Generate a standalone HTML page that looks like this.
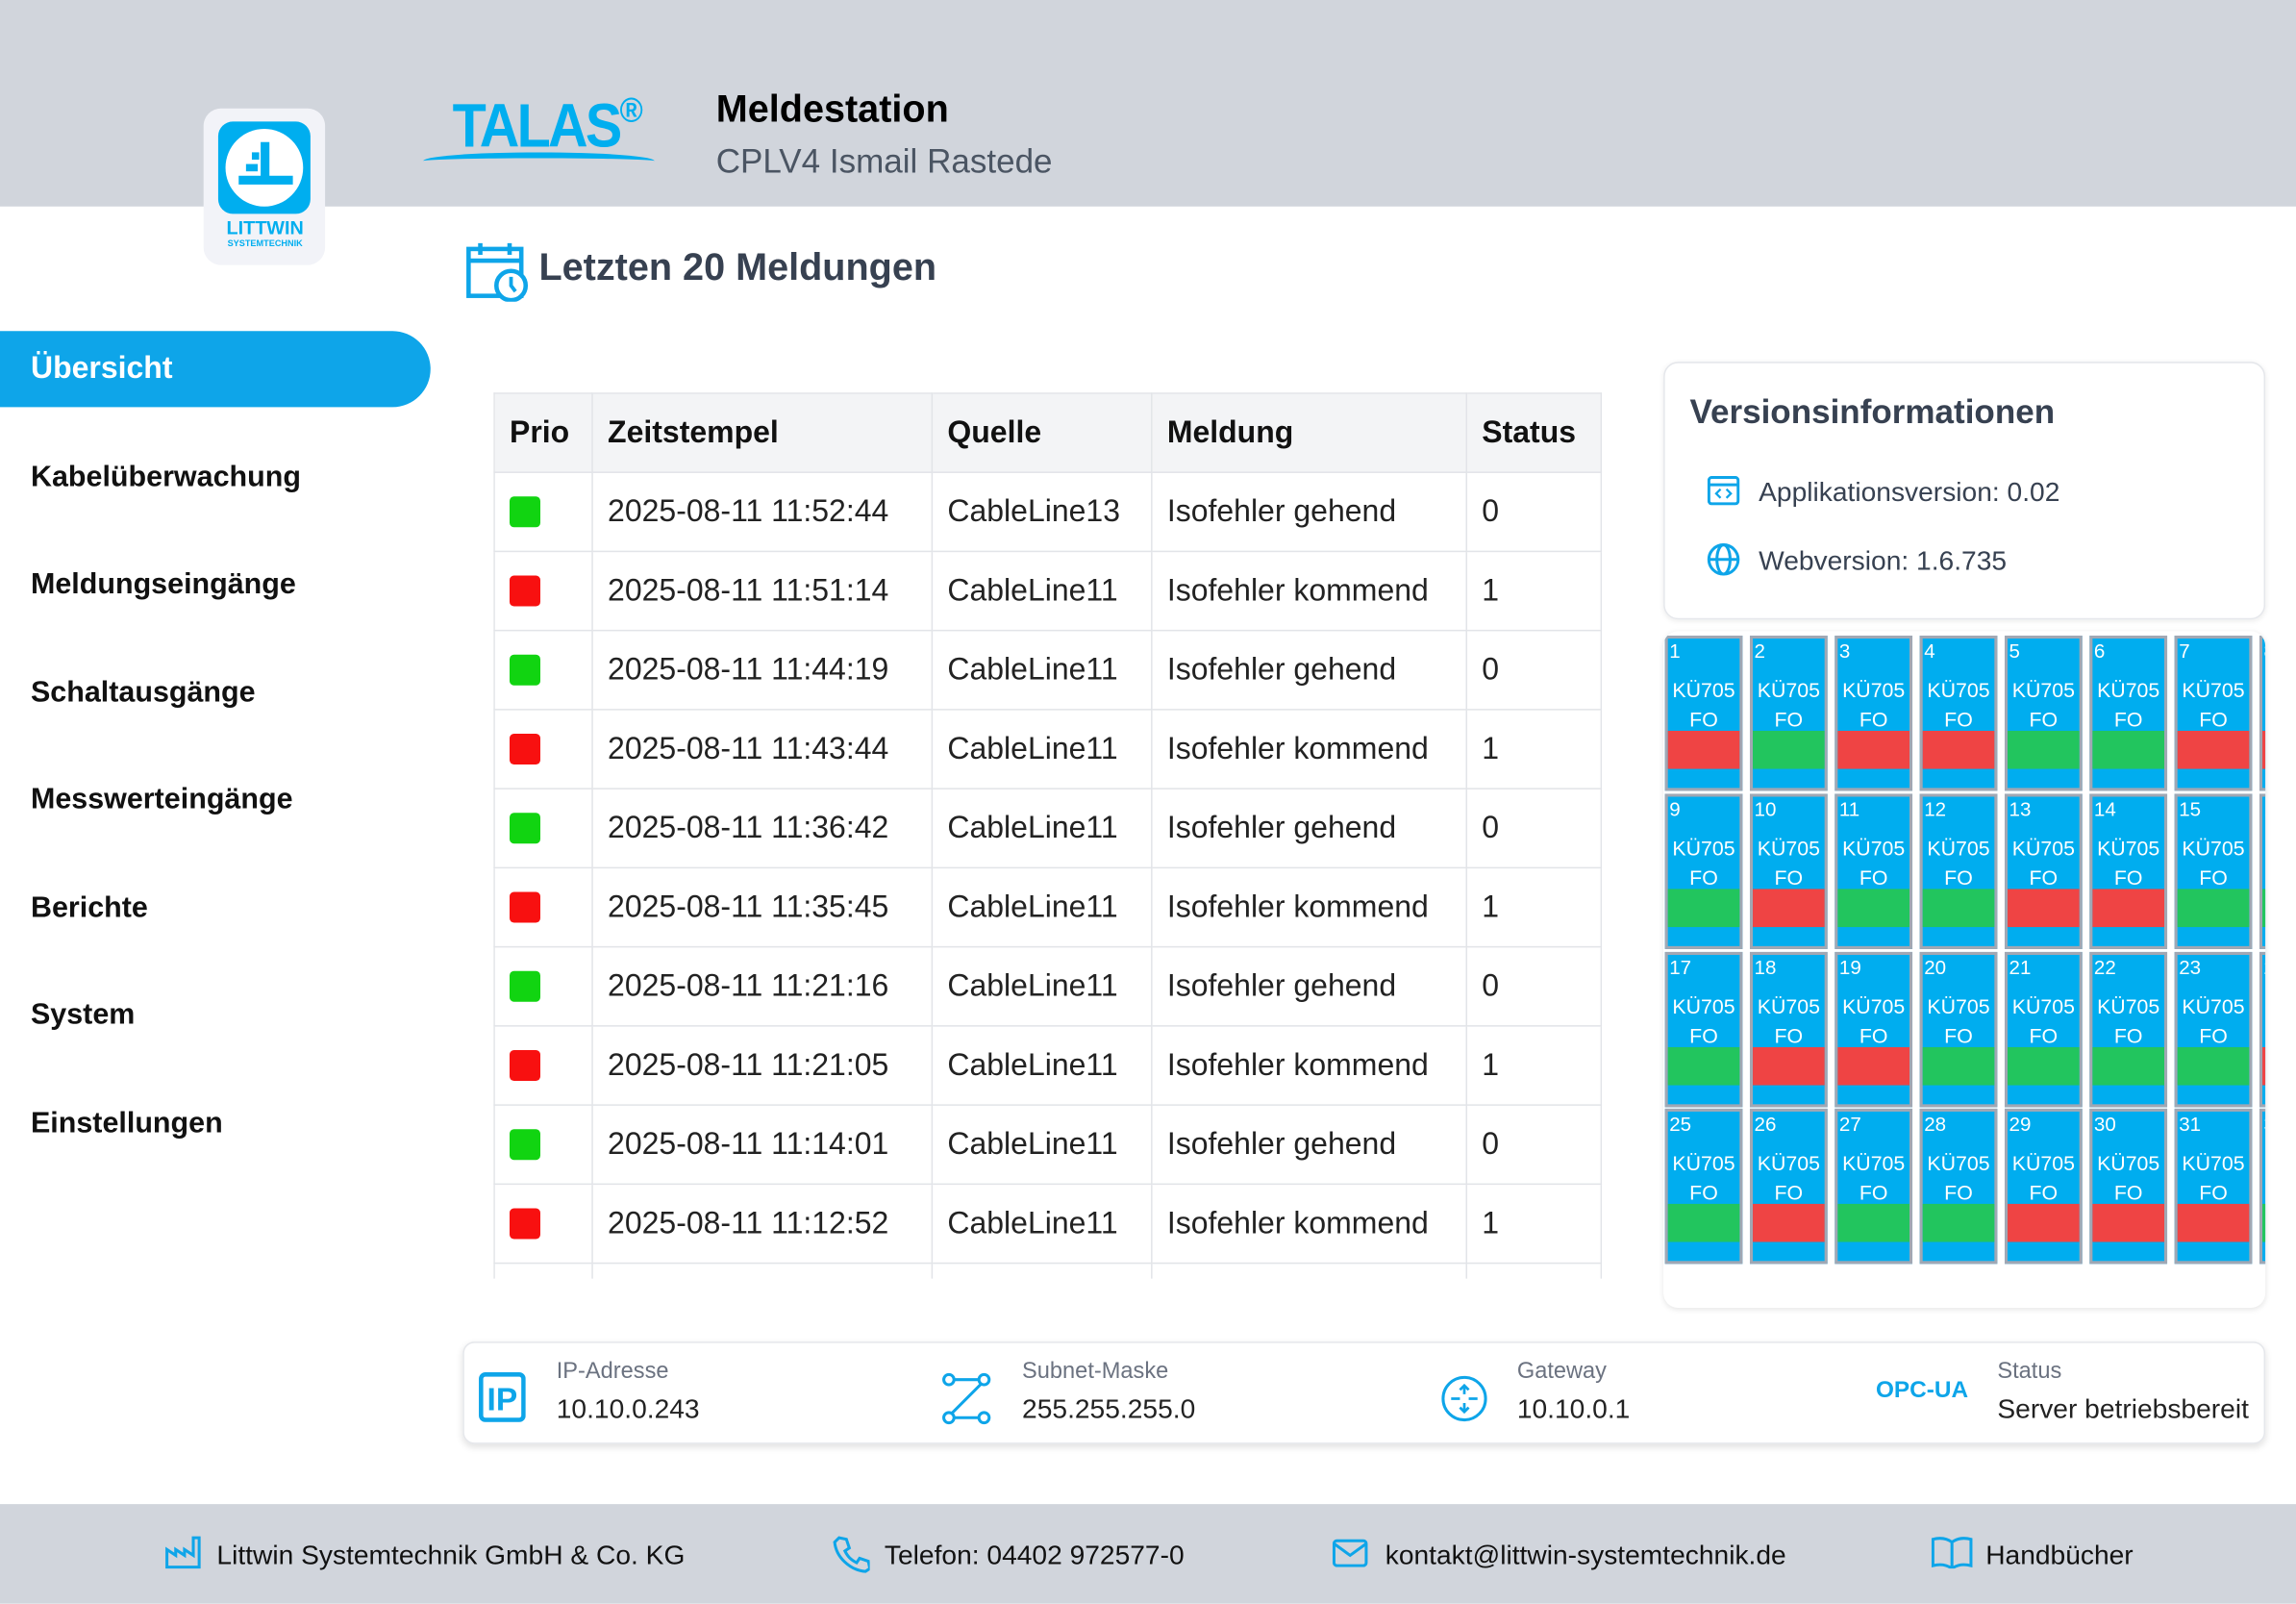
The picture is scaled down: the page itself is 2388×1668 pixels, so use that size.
<!DOCTYPE html>
<html><head><meta charset="utf-8"><style>
*{box-sizing:border-box;margin:0;padding:0}
html,body{width:2388px;height:1668px;overflow:hidden;background:#fff}
#w{position:absolute;left:0;top:0;width:1568px;height:1095px;transform:scale(1.5230);transform-origin:0 0;font-family:"Liberation Sans",sans-serif;}
.a{position:absolute}
.hdr{left:0;top:0;width:1568px;height:141px;background:#d1d5dc}
.ftr{left:0;top:1027px;width:1568px;height:68px;background:#d1d5dc}
.nav{left:21px;font-size:20px;font-weight:bold;color:#111}
table{border-collapse:collapse;font-size:21px;color:#222}
td,th{border:1px solid #e2e4e8;height:54px;padding:0 10px;text-align:left;white-space:nowrap}
th{background:#f3f4f6;font-weight:bold;color:#111}
.sq{width:21px;height:21px;border-radius:3px;display:inline-block;vertical-align:middle}
.g{background:#11d411}.r{background:#f81010}
.tile{position:absolute;width:53px;height:106px;background:#00adef;border:2px solid #a1a7b3;color:#fff;font-size:14px}
.tile .n{position:absolute;left:1px;top:1px;font-size:13.5px}
.tile .k{position:absolute;left:0;width:100%;text-align:center;top:25px;line-height:20px}
.tile .s{position:absolute;left:0;width:100%;top:63px;height:26px}
.tg{background:#22c55e}.tr{background:#ef4444}
.lbl{font-size:15.5px;color:#6b7280}
.val{font-size:18.5px;color:#222}
.ft{font-size:18.5px;color:#111;top:1051px}
</style></head><body><div id="w">
<div class="a hdr"></div>
<div class="a" style="left:139px;top:74px;width:83px;height:107px;background:#f2f3f8;border-radius:12px"></div>
<div class="a" style="left:149px;top:83px;width:63px;height:63px;background:#00aeef;border-radius:10px"></div>
<div class="a" style="left:154px;top:88px;width:53px;height:53px;background:#fff;border-radius:50%"></div>
<div class="a" style="left:178px;top:97px;width:6px;height:28px;background:#00aeef"></div>
<div class="a" style="left:163px;top:120px;width:37px;height:6px;background:#00aeef"></div>
<div class="a" style="left:168px;top:112px;width:8px;height:5px;background:#00aeef"></div>
<div class="a" style="left:172px;top:104px;width:5px;height:5px;background:#00aeef"></div>
<div class="a" style="left:145px;top:149px;width:72px;text-align:center;color:#00aeef;font-weight:bold;font-size:13px;line-height:14px">LITTWIN<br><span style="font-size:6px;line-height:8px;display:block">SYSTEMTECHNIK</span></div>
<div class="a" style="left:309px;top:62px;color:#00aeef;font-size:42px;font-weight:bold;letter-spacing:-2px;transform:scaleX(0.9);transform-origin:0 0">TALAS<span style="font-size:24px;vertical-align:top">®</span></div>
<div class="a" style="left:289px;top:104px;width:158px;height:12px;border-top:4px solid #00aeef;border-radius:50% 50% 0 0"></div>
<div class="a" style="left:489px;top:59px;font-size:26px;font-weight:bold;color:#000">Meldestation</div>
<div class="a" style="left:489px;top:97px;font-size:23px;color:#4b5563">CPLV4 Ismail Rastede</div>

<svg class="a" style="left:318px;top:164px" width="44" height="42" viewBox="0 0 44 42"><rect x="2" y="6" width="36" height="32" fill="none" stroke="#0ea5e9" stroke-width="3"/><line x1="2" y1="14" x2="38" y2="14" stroke="#0ea5e9" stroke-width="3"/><line x1="10" y1="2" x2="10" y2="10" stroke="#0ea5e9" stroke-width="3"/><line x1="30" y1="2" x2="30" y2="10" stroke="#0ea5e9" stroke-width="3"/><circle cx="31" cy="31" r="10" fill="#fff" stroke="#0ea5e9" stroke-width="3"/><path d="M31 25v6l3 4" stroke="#0ea5e9" stroke-width="2.5" fill="none"/></svg>
<div class="a" style="left:368px;top:167px;font-size:26px;font-weight:bold;color:#374151">Letzten 20 Meldungen</div>

<div class="a" style="left:0;top:226px;width:294px;height:52px;background:#0ea5e9;border-radius:0 26px 26px 0"></div>
<div class="a nav" style="top:240px;color:#fff;font-size:21px">Übersicht</div>
<div class="a nav" style="top:315px">Kabelüberwachung</div>
<div class="a nav" style="top:388px">Meldungseingänge</div>
<div class="a nav" style="top:462px">Schaltausgänge</div>
<div class="a nav" style="top:535px">Messwerteingänge</div>
<div class="a nav" style="top:609px">Berichte</div>
<div class="a nav" style="top:682px">System</div>
<div class="a nav" style="top:756px">Einstellungen</div>

<div class="a" style="left:337px;top:268px;width:757px;height:605px;overflow:hidden">
<table style="width:757px">
<tr><th style="width:67px">Prio</th><th style="width:232px">Zeitstempel</th><th style="width:150px">Quelle</th><th style="width:215px">Meldung</th><th>Status</th></tr>
<tr><td><span class="sq g"></span></td><td>2025-08-11 11:52:44</td><td>CableLine13</td><td>Isofehler gehend</td><td>0</td></tr>
<tr><td><span class="sq r"></span></td><td>2025-08-11 11:51:14</td><td>CableLine11</td><td>Isofehler kommend</td><td>1</td></tr>
<tr><td><span class="sq g"></span></td><td>2025-08-11 11:44:19</td><td>CableLine11</td><td>Isofehler gehend</td><td>0</td></tr>
<tr><td><span class="sq r"></span></td><td>2025-08-11 11:43:44</td><td>CableLine11</td><td>Isofehler kommend</td><td>1</td></tr>
<tr><td><span class="sq g"></span></td><td>2025-08-11 11:36:42</td><td>CableLine11</td><td>Isofehler gehend</td><td>0</td></tr>
<tr><td><span class="sq r"></span></td><td>2025-08-11 11:35:45</td><td>CableLine11</td><td>Isofehler kommend</td><td>1</td></tr>
<tr><td><span class="sq g"></span></td><td>2025-08-11 11:21:16</td><td>CableLine11</td><td>Isofehler gehend</td><td>0</td></tr>
<tr><td><span class="sq r"></span></td><td>2025-08-11 11:21:05</td><td>CableLine11</td><td>Isofehler kommend</td><td>1</td></tr>
<tr><td><span class="sq g"></span></td><td>2025-08-11 11:14:01</td><td>CableLine11</td><td>Isofehler gehend</td><td>0</td></tr>
<tr><td><span class="sq r"></span></td><td>2025-08-11 11:12:52</td><td>CableLine11</td><td>Isofehler kommend</td><td>1</td></tr>
<tr><td></td><td></td><td></td><td></td><td></td></tr>
</table></div>

<div class="a" style="left:1136px;top:247px;width:411px;height:176px;border:1px solid #e5e7eb;border-radius:10px;box-shadow:0 1px 4px rgba(0,0,0,.08)"></div>
<div class="a" style="left:1154px;top:268px;font-size:23px;font-weight:bold;color:#374151">Versionsinformationen</div>
<svg class="a" style="left:1166px;top:325px" width="22" height="20"><rect x="1" y="1" width="20" height="18" rx="2" fill="none" stroke="#0ea5e9" stroke-width="2"/><line x1="1" y1="6" x2="21" y2="6" stroke="#0ea5e9" stroke-width="2"/><path d="M9 9l-3 3 3 3M13 9l3 3-3 3" stroke="#0ea5e9" stroke-width="1.5" fill="none"/></svg>
<div class="a" style="left:1201px;top:325px;font-size:18.5px;color:#374151">Applikationsversion: 0.02</div>
<svg class="a" style="left:1165px;top:370px" width="24" height="24"><circle cx="12" cy="12" r="10" fill="none" stroke="#0ea5e9" stroke-width="2"/><ellipse cx="12" cy="12" rx="4.5" ry="10" fill="none" stroke="#0ea5e9" stroke-width="2"/><line x1="2" y1="12" x2="22" y2="12" stroke="#0ea5e9" stroke-width="2"/></svg>
<div class="a" style="left:1201px;top:372px;font-size:18.5px;color:#374151">Webversion: 1.6.735</div>

<div class="a" style="left:1136px;top:431px;width:411px;height:462px;border-radius:10px;box-shadow:0 1px 4px rgba(0,0,0,.1);overflow:hidden">
<div id="tiles"></div></div>

<div class="a" style="left:316px;top:916px;width:1231px;height:70px;border:1px solid #e5e7eb;border-radius:8px;box-shadow:0 2px 5px rgba(0,0,0,.12)"></div>
<svg class="a" style="left:327px;top:937px" width="32" height="34"><rect x="1.5" y="1.5" width="29" height="31" rx="3" fill="none" stroke="#0ea5e9" stroke-width="3"/><text x="16" y="26" text-anchor="middle" font-family="Liberation Sans" font-weight="bold" font-size="22" fill="#0ea5e9">IP</text></svg>
<div class="a lbl" style="left:380px;top:928px">IP-Adresse</div>
<div class="a val" style="left:380px;top:951px">10.10.0.243</div>
<svg class="a" style="left:643px;top:937px" width="34" height="36"><circle cx="5" cy="5" r="3.5" fill="none" stroke="#0ea5e9" stroke-width="2"/><circle cx="29" cy="5" r="3.5" fill="none" stroke="#0ea5e9" stroke-width="2"/><circle cx="5" cy="31" r="3.5" fill="none" stroke="#0ea5e9" stroke-width="2"/><circle cx="29" cy="31" r="3.5" fill="none" stroke="#0ea5e9" stroke-width="2"/><path d="M9 5h16M9 31h16M27 8L7 28" stroke="#0ea5e9" stroke-width="2"/></svg>
<div class="a lbl" style="left:698px;top:928px">Subnet-Maske</div>
<div class="a val" style="left:698px;top:951px">255.255.255.0</div>
<svg class="a" style="left:984px;top:939px" width="32" height="32"><circle cx="16" cy="16" r="14.5" fill="none" stroke="#0ea5e9" stroke-width="2"/><path d="M16 7v6M16 19v6M7 16h6M19 16h6M13 10l3-3 3 3M13 22l3 3 3-3" stroke="#0ea5e9" stroke-width="1.8" fill="none"/></svg>
<div class="a lbl" style="left:1036px;top:928px">Gateway</div>
<div class="a val" style="left:1036px;top:951px">10.10.0.1</div>
<div class="a" style="left:1281px;top:941px;font-size:16px;font-weight:bold;color:#0ea5e9">OPC-UA</div>
<div class="a lbl" style="left:1364px;top:928px">Status</div>
<div class="a val" style="left:1364px;top:951px">Server betriebsbereit</div>

<div class="a ftr"></div>
<svg class="a" style="left:112px;top:1048px" width="26" height="24"><path d="M2 22V10l6 4V10l6 4V10l6 4V2h4v20z" fill="none" stroke="#0ea5e9" stroke-width="2"/></svg>
<div class="a ft" style="left:148px">Littwin Systemtechnik GmbH &amp; Co. KG</div>
<svg class="a" style="left:568px;top:1048px" width="26" height="26"><path d="M5 2l5 1 2 6-3 2c2 4 4 6 8 8l2-3 6 2 1 5-3 2C12 24 3 15 2 5z" fill="none" stroke="#0ea5e9" stroke-width="2"/></svg>
<div class="a ft" style="left:604px">Telefon: 04402 972577-0</div>
<svg class="a" style="left:910px;top:1051px" width="24" height="19"><rect x="1" y="1" width="22" height="17" rx="2" fill="none" stroke="#0ea5e9" stroke-width="2"/><path d="M1 3l11 8 11-8" fill="none" stroke="#0ea5e9" stroke-width="2"/></svg>
<div class="a ft" style="left:946px">kontakt@littwin-systemtechnik.de</div>
<svg class="a" style="left:1319px;top:1049px" width="28" height="22"><path d="M14 4C10 1 5 1 1 2v18c4-1 9-1 13 2 4-3 9-3 13-2V2c-4-1-9-1-13 2zM14 4v18" fill="none" stroke="#0ea5e9" stroke-width="2"/></svg>
<div class="a ft" style="left:1356px">Handbücher</div>
</div>
<script>
var c=[["r","g","r","r","g","g","r","r"],["g","r","g","g","r","r","g","g"],["g","r","r","g","g","g","g","r"],["g","r","g","g","r","r","r","g"]];
var ys=[3,111,219,326],h="";
for(var r=0;r<4;r++)for(var i=0;i<8;i++){var n=r*8+i+1;
h+='<div class="tile" style="left:'+(1+i*58)+'px;top:'+ys[r]+'px"><span class="n">'+n+'</span><div class="k">KÜ705<br>FO</div><div class="s t'+c[r][i]+'"></div></div>';}
document.getElementById("tiles").innerHTML=h;
</script>
</body></html>
